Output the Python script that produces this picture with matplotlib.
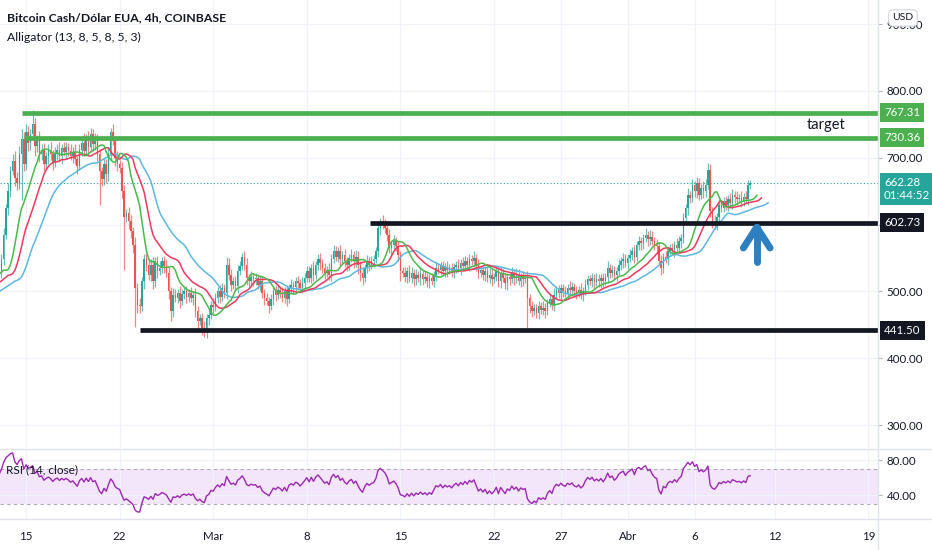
import numpy as np
import matplotlib
matplotlib.use("Agg")
import matplotlib.pyplot as plt
from matplotlib.lines import Line2D
from matplotlib.transforms import blended_transform_factory

FONT = ["Lato", "DejaVu Sans"]
plt.rcParams["font.family"] = FONT

title = "Bitcoin Cash/Dólar EUA, 4h, COINBASE"
subtitle = "Alligator (13, 8, 5, 8, 5, 3)"
rsi_title = "RSI (14, close)"

# off-screen history (before the visible window) so the indicators are warmed up
warmup_close = [470, 478, 485, 480, 490, 495, 488, 500, 505, 498, 510, 515,
                508, 520, 525, 518, 530, 528, 535, 532, 540, 538, 545, 530]

# 4h closes, one line per day (6 candles), starting 13 Feb 04:00
close = [
    548, 585, 625, 650, 680, 695,
    670, 662, 705, 728, 690, 738,
    722, 735, 750, 718, 728, 705,
    712, 690, 702, 712, 705, 692,
    706, 712, 702, 714, 708, 716,
    710, 702, 708, 698, 688, 712,
    722, 710, 728, 716, 735, 720,
    725, 705, 680, 668, 690, 675,
    705, 738, 725, 700, 690, 685,
    650, 612, 618, 605, 590, 570,
    505, 480, 478, 515, 548, 540,
    525, 540, 515, 545, 530, 535,
    545, 538, 528, 500, 470, 495,
    490, 498, 485, 496, 500, 492,
    498, 490, 495, 470, 455, 460,
    445, 438, 460, 465, 480, 476,
    490, 500, 492, 505, 498, 540,
    525, 510, 515, 508, 530, 538,
    552, 540, 520, 515, 522, 518,
    520, 510, 515, 498, 490, 485,
    478, 488, 500, 495, 502, 498,
    490, 500, 488, 505, 510, 506,
    515, 512, 505, 512, 520, 530,
    520, 535, 525, 540, 548, 542,
    535, 528, 532, 525, 548, 560,
    552, 560, 548, 555, 545, 540,
    550, 555, 545, 552, 540, 528,
    520, 535, 545, 540, 545, 548,
    560, 595, 605, 600, 595, 585,
    565, 570, 575, 568, 555, 530,
    528, 522, 530, 520, 528, 518,
    525, 520, 526, 518, 522, 515,
    520, 515, 525, 535, 532, 538,
    530, 536, 532, 535, 530, 536,
    540, 535, 542, 538, 545, 540,
    548, 545, 550, 540, 528, 532,
    525, 530, 520, 525, 518, 522,
    530, 515, 528, 520, 512, 522,
    518, 528, 520, 525, 515, 522,
    518, 520, 490, 478, 470, 475,
    468, 478, 472, 475, 470, 482,
    488, 480, 495, 502, 498, 505,
    500, 498, 505, 502, 506, 500,
    498, 502, 496, 500, 510, 518,
    515, 520, 514, 518, 515, 520,
    515, 522, 535, 528, 532, 525,
    530, 540, 545, 548, 542, 550,
    555, 560, 552, 570, 575, 572,
    580, 585, 578, 582, 575, 570,
    568, 545, 535, 552, 548, 560,
    565, 562, 570, 565, 575, 580,
    610, 625, 645, 640, 660, 650,
    662, 645, 655, 650, 660, 682,
    620, 605, 600, 612, 630, 625,
    635, 630, 638, 632, 645, 642,
    638, 640, 636, 642, 638, 660,
    662.28,
]

# upper wick above the body, per candle
up_wick = [
    8, 10, 6, 12, 8, 10,
    15, 8, 12, 15, 10, 12,
    10, 8, 22, 10, 6, 12,
    8, 10, 6, 8, 12, 6,
    10, 8, 12, 6, 10, 8,
    6, 10, 8, 12, 6, 8,
    10, 15, 8, 12, 10, 8,
    12, 10, 8, 6, 10, 8,
    10, 6, 12, 8, 10, 6,
    8, 10, 6, 8, 10, 6,
    12, 8, 10, 6, 8, 10,
    10, 8, 12, 6, 8, 10,
    6, 8, 10, 8, 6, 10,
    8, 6, 10, 8, 6, 8,
    6, 8, 6, 10, 8, 6,
    8, 10, 6, 8, 6, 10,
    8, 6, 10, 8, 6, 12,
    10, 8, 6, 8, 10, 8,
    5, 8, 10, 6, 8, 6,
    8, 6, 10, 8, 6, 8,
    6, 8, 6, 10, 8, 6,
    8, 6, 10, 6, 8, 6,
    6, 8, 6, 10, 8, 8,
    8, 6, 10, 6, 8, 10,
    6, 8, 6, 10, 8, 10,
    8, 6, 10, 6, 8, 6,
    6, 8, 6, 10, 8, 6,
    8, 6, 10, 6, 8, 6,
    6, 8, 5, 10, 8, 6,
    8, 6, 10, 6, 8, 6,
    6, 8, 6, 10, 8, 6,
    8, 6, 10, 6, 8, 6,
    6, 8, 6, 10, 8, 6,
    8, 6, 10, 6, 8, 6,
    6, 8, 6, 10, 8, 6,
    8, 6, 10, 6, 8, 6,
    6, 8, 6, 10, 8, 6,
    8, 6, 10, 6, 8, 6,
    6, 8, 6, 10, 8, 6,
    8, 6, 10, 6, 8, 6,
    6, 8, 6, 10, 8, 6,
    8, 6, 10, 6, 8, 6,
    6, 8, 6, 10, 8, 6,
    8, 6, 10, 6, 8, 6,
    6, 8, 6, 10, 8, 6,
    8, 6, 10, 6, 8, 6,
    6, 8, 6, 10, 8, 6,
    8, 6, 10, 6, 8, 6,
    6, 10, 6, 10, 8, 6,
    8, 6, 10, 6, 8, 6,
    6, 8, 6, 10, 8, 6,
    8, 6, 10, 6, 8, 6,
    10, 8, 6, 10, 8, 10,
    8, 6, 10, 6, 8, 6,
    6, 8, 6, 10, 8, 6,
    8, 6, 10, 6, 8, 7,
    5,
]

# lower wick below the body, per candle
dn_wick = [
    10, 8, 6, 10, 8, 6,
    12, 10, 8, 68, 10, 8,
    12, 10, 8, 15, 10, 12,
    8, 10, 6, 12, 8, 10,
    6, 10, 8, 12, 6, 10,
    8, 6, 10, 8, 12, 6,
    10, 8, 6, 12, 8, 10,
    8, 10, 51, 10, 8, 12,
    10, 8, 6, 12, 10, 8,
    10, 80, 8, 12, 10, 12,
    58, 12, 10, 8, 12, 10,
    8, 10, 12, 8, 10, 6,
    8, 10, 6, 12, 15, 8,
    6, 8, 10, 6, 8, 10,
    8, 6, 10, 8, 10, 6,
    10, 6, 8, 10, 6, 8,
    6, 8, 10, 6, 8, 10,
    8, 10, 6, 8, 10, 6,
    6, 8, 10, 8, 6, 10,
    8, 6, 10, 8, 10, 6,
    10, 6, 8, 10, 6, 8,
    6, 8, 10, 6, 8, 10,
    8, 10, 6, 8, 10, 6,
    6, 8, 10, 6, 8, 10,
    8, 10, 6, 8, 10, 6,
    6, 8, 10, 6, 8, 10,
    8, 6, 10, 8, 14, 12,
    10, 6, 8, 10, 6, 8,
    6, 8, 10, 6, 8, 10,
    8, 10, 6, 8, 10, 15,
    6, 8, 10, 6, 8, 10,
    8, 6, 10, 8, 6, 8,
    10, 6, 8, 10, 6, 8,
    6, 8, 10, 6, 8, 10,
    8, 6, 10, 8, 6, 8,
    10, 6, 8, 10, 8, 6,
    8, 10, 6, 8, 10, 6,
    6, 8, 10, 6, 8, 10,
    8, 6, 10, 8, 6, 8,
    10, 6, 45, 10, 8, 6,
    8, 10, 6, 8, 10, 6,
    6, 8, 10, 6, 8, 10,
    8, 6, 10, 8, 6, 8,
    10, 6, 8, 10, 6, 8,
    6, 8, 10, 6, 8, 10,
    8, 6, 10, 8, 6, 8,
    10, 6, 8, 10, 6, 8,
    6, 8, 10, 6, 8, 10,
    8, 6, 10, 8, 6, 8,
    10, 6, 10, 8, 6, 8,
    6, 8, 10, 6, 8, 10,
    8, 6, 10, 8, 6, 8,
    10, 8, 6, 10, 8, 6,
    8, 10, 6, 8, 10, 6,
    6, 8, 10, 6, 8, 10,
    8, 6, 10, 8, 6, 8,
    6,
]

# horizontal levels (price, start day)
green_levels = [767.31, 730.36]
green_starts = [-0.3, -0.15]
black_levels = [602.73, 441.50]
black_starts = [25.7, 8.5]
last_price = 662.28
countdown = "01:44:52"

# time axis: days after 15 Feb
tick_days = [0, 7, 14, 21, 28, 35, 40, 45, 50, 56, 63]
tick_labels = ["15", "22", "Mar", "8", "15", "22", "27", "Abr", "6", "12", "19"]
price_grid = [300, 400, 500, 600, 700, 800, 900]
price_labels = ["300.00", "400.00", "500.00", "", "700.00", "800.00", "900.00"]
rsi_ticks = [40, 80]

# ---------------------------------------------------------------- computations
W, H = 932, 550
close = np.array(close, float)
warm = np.array(warmup_close, float)
n = len(close)
opens = np.concatenate([[warm[-1]], close[:-1]])
highs = np.maximum(opens, close) + np.array(up_wick, float)
lows = np.minimum(opens, close) - np.array(dn_wick, float)
t = (np.arange(n) - 11) / 6.0

all_close = np.concatenate([warm, close])
all_med = np.concatenate([warm, (highs + lows) / 2])
t_all = (np.arange(len(all_close)) - len(warm) - 11) / 6.0


def smma(src, p):
    out = np.full(len(src), np.nan)
    out[p - 1] = src[:p].mean()
    for i in range(p, len(src)):
        out[i] = (out[i - 1] * (p - 1) + src[i]) / p
    return out


def rsi(c, p=14):
    d = np.diff(c)
    up = np.maximum(d, 0)
    dn = np.maximum(-d, 0)
    au = smma(up, p)
    ad = smma(dn, p)
    r = 100 - 100 / (1 + au / ad)
    return np.concatenate([[np.nan], r])


jaw = smma(all_med, 13)
teeth = smma(all_med, 8)
lips = smma(all_med, 5)
rsi_v = rsi(all_close, 14)

# ---------------------------------------------------------------- figure
fig = plt.figure(figsize=(W / 100, H / 100), dpi=100, facecolor="white")
AX_R = 878 / W
ax = fig.add_axes([0, 102 / H, AX_R, 448 / H])
rx = fig.add_axes([0, 31 / H, AX_R, 70 / H])

XMIN, XMAX = -1.945, 63.72
for a in (ax, rx):
    a.set_xlim(XMIN, XMAX)
    for s in a.spines.values():
        s.set_visible(False)
    a.set_xticks(tick_days)
    a.grid(True, color="#f0f3fa", lw=0.9, zorder=0)
    a.set_axisbelow(True)
    a.yaxis.tick_right()
    a.tick_params(axis="y", length=3, color="#b2b5be", pad=3, labelsize=8.3,
                  labelcolor="#131722")
ax.tick_params(axis="x", length=0, labelbottom=False)
rx.tick_params(axis="x", length=0, pad=8.5, labelsize=8.3, labelcolor="#131722")
rx.set_xticklabels(tick_labels)

ax.set_ylim(265.6, 936.2)
ax.set_yticks(price_grid)
ax.set_yticklabels(price_labels)
rx.set_ylim(12.6, 92.6)
rx.set_yticks(rsi_ticks)
rx.set_yticklabels([f"{v:.2f}" for v in rsi_ticks])

UP, DN = "#26a69a", "#ef5350"
cols = np.where(close >= opens, UP, DN)
ax.vlines(t, lows, highs, colors=cols, lw=0.9, alpha=0.7, zorder=2)
body_h = np.where(np.abs(close - opens) < 1.5, 1.5, close - opens)
ax.bar(t, body_h, bottom=opens, width=0.115, color=cols, lw=0, zorder=3)

# alligator
ax.plot(t_all + 8 / 6, jaw, color="#5db7de", lw=1.1, zorder=4)
ax.plot(t_all + 5 / 6, teeth, color="#f0385f", lw=1.1, zorder=4)
ax.plot(t_all + 3 / 6, lips, color="#4cb84c", lw=1.1, zorder=4)

# current price dotted line
ax.axhline(last_price, color=UP, lw=0.8, ls=(0, (1, 2)), zorder=1)

# levels
for lv, st in zip(green_levels, green_starts):
    ax.hlines(lv, st, XMAX, color="#4caf50", lw=3.4, zorder=5)
for lv, st in zip(black_levels, black_starts):
    ax.hlines(lv, st, XMAX, color="#131722", lw=3.4, zorder=5)

# right-axis price labels
trans = blended_transform_factory(fig.transFigure, ax.transData)
lx = 884 / W
for lv in green_levels:
    ax.text(lx, lv, f"{lv:.2f}", transform=trans, color="white", fontsize=8.3,
            va="center", ha="left", clip_on=False, zorder=10,
            bbox=dict(boxstyle="square,pad=0.35", fc="#4caf50", ec="none"))
for lv in black_levels:
    ax.text(lx, lv, f"{lv:.2f}", transform=trans, color="white", fontsize=8.3,
            va="center", ha="left", clip_on=False, zorder=10,
            bbox=dict(boxstyle="square,pad=0.35", fc="#131722", ec="none"))
ax.text(lx, last_price - 9, f"{last_price:.2f}\n{countdown}", transform=trans,
        color="white", fontsize=8.3, va="center", ha="left", clip_on=False,
        zorder=10, linespacing=1.25,
        bbox=dict(boxstyle="square,pad=0.35", fc=UP, ec="none"))

# USD box
fig.text(903 / W, 1 - 18 / H, "USD", fontsize=7.5, color="#131722", ha="center",
         va="center", zorder=20,
         bbox=dict(boxstyle="round,pad=0.35,rounding_size=0.4", fc="white",
                   ec="#d1d4dc", lw=0.8))

# titles
fig.text(7 / W, 1 - 18 / H, title, fontsize=8.8, fontweight="bold",
         color="#131722", va="center", ha="left")
fig.text(7 / W, 1 - 37 / H, subtitle, fontsize=8.8, color="#131722",
         va="center", ha="left")

# target text
ax.text(59.8, 749, "target", fontsize=10.5, color="#131722", ha="center",
        va="center", zorder=6)

# blue arrow
AX_X, TIP, ARM, TAIL, HW = 54.65, 596, 565, 544.5, 1.0
ax.plot([AX_X, AX_X], [TAIL, TIP], color="#2e7fc0", lw=5,
        solid_capstyle="round", zorder=6)
ax.plot([AX_X - HW, AX_X, AX_X + HW], [ARM, TIP, ARM], color="#2e7fc0", lw=5,
        solid_capstyle="round", solid_joinstyle="round", zorder=6)

# RSI
rx.axhspan(30, 70, color="#f3e6fb", zorder=0.5, lw=0)
rx.axhline(70, color="#b0a8b8", lw=0.8, ls=(0, (3, 3)), zorder=1)
rx.axhline(30, color="#b0a8b8", lw=0.8, ls=(0, (3, 3)), zorder=1)
rx.plot(t_all, rsi_v, color="#9c27b0", lw=1.0, zorder=3)
rx.text(6 / W / AX_R, 69, rsi_title, transform=blended_transform_factory(
    rx.transAxes, rx.transData), fontsize=8.5, color="#131722", va="center",
    ha="left", zorder=4)

# pane separators and right border
for ypx in (448.5, 519):
    fig.add_artist(Line2D([0, 1], [1 - ypx / H] * 2, color="#e0e3eb", lw=1))
fig.add_artist(Line2D([AX_R, AX_R], [0, 1], color="#e0e3eb", lw=1))

fig.savefig("out.png", dpi=100, facecolor="white")
